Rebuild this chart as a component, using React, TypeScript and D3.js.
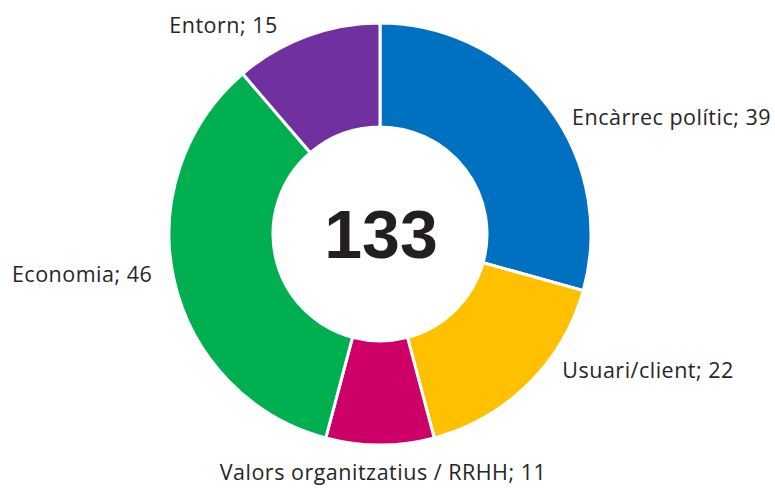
import React, { useRef, useEffect } from "react";
import * as d3 from "d3";

const categories = [
  "Encàrrec polític",
  "Usuari/client",
  "Valors organitzatius / RRHH",
  "Economia",
  "Entorn",
];
const values = [39, 22, 11, 46, 15];
const colors = ["#0070C0", "#FFC000", "#CC0066", "#00B050", "#7030A0"];

// label nudges from the outer mid-point of each slice (Excel-ish placement)
const labelNudge: [number, number, string][] = [
  [24, 19, "start"],
  [34, -6, "start"],
  [3, 35, "middle"],
  [-22, 1, "end"],
  [-29, -3, "end"],
];

const App = () => {
  const svgRef = useRef<SVGSVGElement>(null);

  useEffect(() => {
    document.body.style.margin = "0";
    const width = 775,
      height = 488,
      cx = 380,
      cy = 234,
      outerR = 211,
      innerR = 107;

    const svg = d3.select(svgRef.current);
    svg.selectAll("*").remove();

    const data = categories.map((c, i) => ({ name: c, value: values[i], color: colors[i], i }));
    const pie = d3
      .pie<any>()
      .value((d) => d.value)
      .sort(null);
    const arc = d3.arc<any>().innerRadius(innerR).outerRadius(outerR);
    const arcs = pie(data);

    const g = svg.append("g").attr("transform", `translate(${cx},${cy})`);

    g.selectAll("path.slice")
      .data(arcs)
      .enter()
      .append("path")
      .attr("class", "slice")
      .attr("d", arc as any)
      .attr("fill", (d) => d.data.color)
      .attr("stroke", "#fff")
      .attr("stroke-width", 3)
      .attr("stroke-linejoin", "miter");

    // data labels
    g.selectAll("text.lbl")
      .data(arcs)
      .enter()
      .append("text")
      .attr("class", "lbl")
      .attr("x", (d) => {
        const a = (d.startAngle + d.endAngle) / 2;
        return outerR * Math.sin(a) + labelNudge[d.data.i][0];
      })
      .attr("y", (d) => {
        const a = (d.startAngle + d.endAngle) / 2;
        return -outerR * Math.cos(a) + labelNudge[d.data.i][1];
      })
      .attr("text-anchor", (d) => labelNudge[d.data.i][2])
      .style("font-family", "'Open Sans', Lato, sans-serif")
      .style("font-size", "21.5px")
      .style("letter-spacing", "0.5px")
      .style("fill", "#262626")
      .text((d) => `${d.data.name}; ${d.data.value}`);

    // total in the hole
    g.append("text")
      .attr("x", 1)
      .attr("y", 0)
      .attr("dy", "0.355em")
      .attr("text-anchor", "middle")
      .style("font-family", "'Liberation Sans', Arial, sans-serif")
      .style("font-weight", "bold")
      .style("font-size", "68px")
      .style("fill", "#231f20")
      .text(d3.sum(values));

    svg.attr("width", width).attr("height", height);
  }, []);

  return (
    <svg
      ref={svgRef}
      width={775}
      height={488}
      style={{ display: "block", background: "#fff" }}
    ></svg>
  );
};

export default App;
